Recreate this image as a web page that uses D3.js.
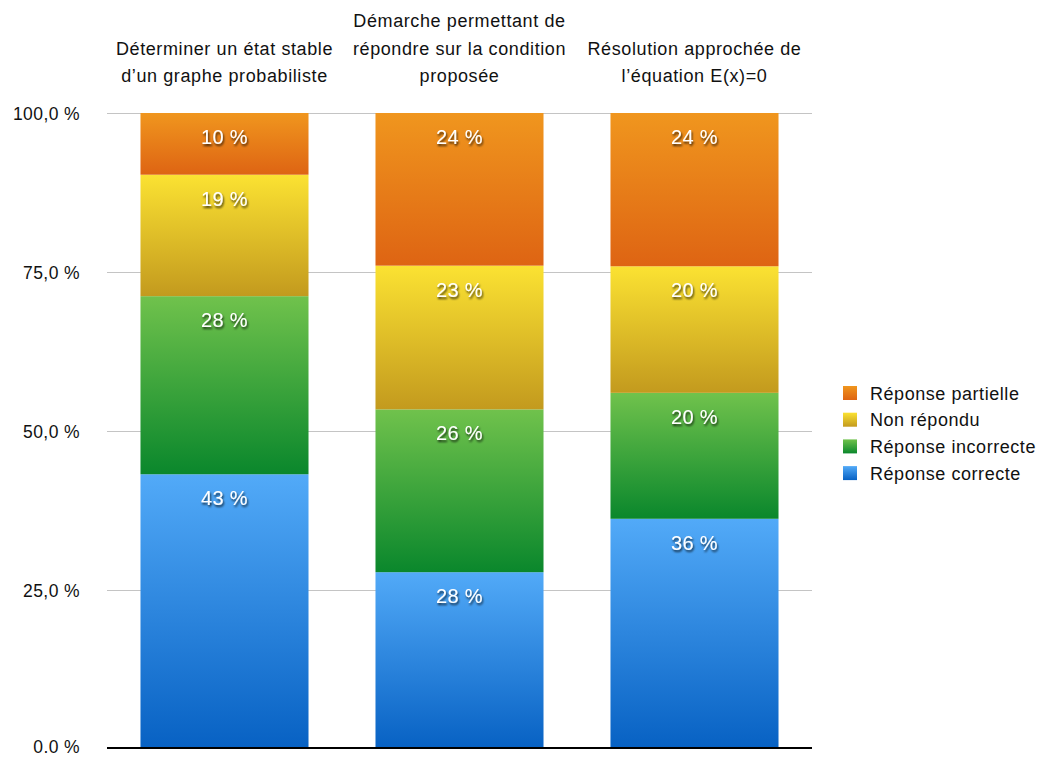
<!DOCTYPE html>
<html><head><meta charset="utf-8">
<script src="https://cdn.jsdelivr.net/npm/d3@7"></script>
<style>
body{margin:0;background:#fff;}
svg{display:block;font-family:"Liberation Sans",Arial,Helvetica,sans-serif;}
</style></head>
<body><svg id="c" width="1041" height="758"></svg>
<script>
const categories = [
  ["Déterminer un état stable","d’un graphe probabiliste"],
  ["Démarche permettant de","répondre sur la condition","proposée"],
  ["Résolution approchée de","l’équation E(x)=0"]
];
const seriesNames = ["Réponse correcte","Réponse incorrecte","Non répondu","Réponse partielle"];
const correcte   = [43.2, 27.8, 36.2];
const incorrecte = [28.0, 25.6, 19.8];
const nonRepondu = [19.1, 22.6, 19.9];
const partielle  = [ 9.7, 24.0, 24.1];
const tickValues = [0, 25, 50, 75, 100];
const tickLabels = ["0.0 %","25,0 %","50,0 %","75,0 %","100,0 %"];

const colorTop = ["#52aaf8","#70c24c","#fbe232","#f0961e"];
const colorBot = ["#0761c3","#0a872c","#c39a1e","#de6413"];

const svg = d3.select("#c");
const x0 = 107, x1 = 812, yTop = 113, yBot = 749;

const x = d3.scaleBand().domain(d3.range(categories.length)).range([x0, x1]).paddingInner(0.285).paddingOuter(0.1425);
const y = d3.scaleLinear().domain([0, 100]).range([yBot, yTop]);

const table = categories.map((c, i) => ({
  i, correcte: correcte[i], incorrecte: incorrecte[i], nonRepondu: nonRepondu[i], partielle: partielle[i]
}));
const keys = ["correcte","incorrecte","nonRepondu","partielle"];
const stacked = d3.stack().keys(keys)(table);

const defs = svg.append("defs");
keys.forEach((k, j) => {
  const g = defs.append("linearGradient").attr("id", "g" + j).attr("x1", 0).attr("y1", 0).attr("x2", 0).attr("y2", 1);
  g.append("stop").attr("offset", "0%").attr("stop-color", colorTop[j]);
  g.append("stop").attr("offset", "100%").attr("stop-color", colorBot[j]);
});
const f = defs.append("filter").attr("id", "sh").attr("x", "-20%").attr("y", "-30%").attr("width", "140%").attr("height", "160%");
f.append("feDropShadow").attr("dx", 1).attr("dy", 2).attr("stdDeviation", 1.2).attr("flood-color", "#000").attr("flood-opacity", 0.75);

// grid
svg.append("g").selectAll("line").data(tickValues.filter(v => v > 0)).join("line")
  .attr("x1", x0).attr("x2", x1)
  .attr("y1", d => y(d) + 0.5).attr("y2", d => y(d) + 0.5)
  .attr("stroke", "#c4c4c4").attr("stroke-width", 1);

// y labels
const yAxis = d3.axisLeft(y).tickValues(tickValues).tickFormat((d, i) => tickLabels[i]).tickSize(0).tickPadding(0);
const ya = svg.append("g").attr("transform", `translate(80,0)`).call(yAxis);
ya.select(".domain").remove();
ya.selectAll("text").attr("font-size", 17.5).attr("letter-spacing", "0.4px").attr("fill", "#111")
  .attr("font-family", "Liberation Sans, Arial, sans-serif")
  .attr("dy", d => d === 0 ? "0.2em" : "0.36em");

// bars
stacked.forEach((s, j) => {
  const g = svg.append("g");
  g.selectAll("rect").data(s).join("rect")
    .attr("x", d => x(d.data.i))
    .attr("width", x.bandwidth())
    .attr("y", d => y(d[1]))
    .attr("height", d => y(d[0]) - y(d[1]))
    .attr("fill", `url(#g${j})`);
  g.selectAll("text").data(s).join("text")
    .attr("x", d => x(d.data.i) + x.bandwidth() / 2)
    .attr("y", d => y(d[1]) + 31)
    .attr("text-anchor", "middle")
    .attr("font-size", 20)
    .attr("letter-spacing", "0.3px")
    .attr("fill", "#fff")
    .attr("filter", "url(#sh)")
    .text(d => Math.round(d[1] - d[0]) + " %");
});

// baseline
svg.append("line").attr("x1", x0).attr("x2", x1).attr("y1", yBot - 1).attr("y2", yBot - 1)
  .attr("stroke", "#000").attr("stroke-width", 2.2);

// category titles
categories.forEach((lines, i) => {
  const t = svg.append("text").attr("text-anchor", "middle").attr("font-size", 18)
    .attr("letter-spacing", "0.6px").attr("fill", "#111");
  const cx = x(i) + x.bandwidth() / 2;
  const n = lines.length;
  lines.forEach((l, k) => {
    t.append("tspan").attr("x", cx).attr("y", 82 - 27.5 * (n - 1 - k)).text(l);
  });
});

// legend
const legOrder = [3, 2, 1, 0];
const lg = svg.append("g");
legOrder.forEach((j, r) => {
  const yy = 393 + r * 26.7;
  lg.append("rect").attr("x", 843).attr("y", yy - 7).attr("width", 14).attr("height", 14).attr("fill", `url(#g${j})`);
  lg.append("text").attr("x", 870).attr("y", yy + 6.5).attr("font-size", 18).attr("letter-spacing", "0.55px")
    .attr("fill", "#111").text(seriesNames[j]);
});
</script></body></html>
